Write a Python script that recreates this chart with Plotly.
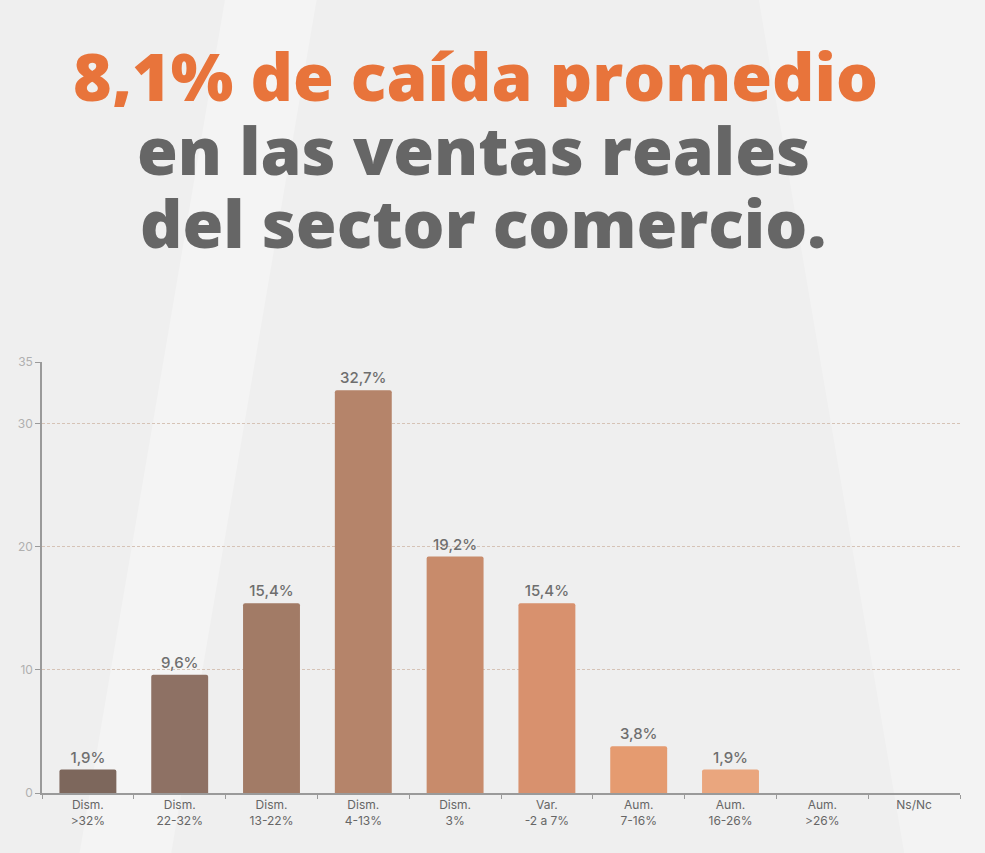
import plotly.graph_objects as go

# data
categorias = ["Dism.<br>>32%", "Dism.<br>22-32%", "Dism.<br>13-22%", "Dism.<br>4-13%",
              "Dism.<br>3%", "Var.<br>-2 a 7%", "Aum.<br>7-16%", "Aum.<br>16-26%",
              "Aum.<br>>26%", "Ns/Nc"]
valores = [1.9, 9.6, 15.4, 32.7, 19.2, 15.4, 3.8, 1.9, 0, 0]
etiquetas = ["1,9%", "9,6%", "15,4%", "32,7%", "19,2%", "15,4%", "3,8%", "1,9%", "", ""]
colores = ["#7d675c", "#8e7164", "#a27b66", "#b5846a", "#c88b6b", "#d8916e",
           "#e59b70", "#eaa67e", "#eaa67e", "#eaa67e"]
y_ticks = [0, 10, 20, 30, 35]

titulo_1 = "8,1% de caída promedio"
titulo_2 = "en las ventas reales"
titulo_3 = "del sector comercio."

fig = go.Figure()
fig.add_trace(go.Bar(
    x=categorias,
    y=valores,
    marker={"color": colores, "line": {"width": 0}, "cornerradius": 2},
    text=etiquetas,
    textposition="outside",
    textfont={"family": "Inter, Roboto, sans-serif", "size": 15, "color": "#6e6e6e", "weight": 500},
    cliponaxis=False,
    width=0.62,
    hoverinfo="skip",
))

# soft diagonal light streaks in the background
shapes = [
    {"type": "path", "xref": "paper", "yref": "paper",
     "path": "M 0.2 1.85 L 0.3 1.85 L 0.14 -0.15 L 0.04 -0.15 Z",
     "fillcolor": "rgba(255,255,255,0.3)", "line": {"width": 0}, "layer": "below"},
    {"type": "path", "xref": "paper", "yref": "paper",
     "path": "M 0.78 1.85 L 1.05 1.85 L 1.05 -0.15 L 0.94 -0.15 Z",
     "fillcolor": "rgba(255,255,255,0.25)", "line": {"width": 0}, "layer": "below"},
]

titulo_font = {"family": "'Open Sans', Lato, sans-serif", "size": 66, "weight": 800}
annotations = [
    dict(text=titulo_1, x=0.472, y=1.666, font=dict(titulo_font, color="#e8743b")),
    dict(text=titulo_2, x=0.47, y=1.494, font=dict(titulo_font, color="#666666")),
    dict(text=titulo_3, x=0.48, y=1.324, font=dict(titulo_font, color="#666666")),
]
for a in annotations:
    a.update(xref="paper", yref="paper", showarrow=False, xanchor="center",
             yanchor="middle", height=64, valign="middle")

fig.update_layout(
    width=985, height=853,
    paper_bgcolor="#efefef",
    plot_bgcolor="rgba(0,0,0,0)",
    margin={"l": 42, "r": 25, "t": 362, "b": 60},
    showlegend=False,
    shapes=shapes,
    annotations=annotations,
    font={"family": "Inter, Roboto, sans-serif", "color": "#666666"},
    xaxis={
        "showline": True, "linecolor": "#9a9a9a", "linewidth": 1.5,
        "ticks": "outside", "tickson": "boundaries", "ticklen": 4, "tickcolor": "#9a9a9a",
        "tickfont": {"size": 12, "color": "#666666"},
        "showgrid": False, "fixedrange": True,
    },
    yaxis={
        "range": [0, 35], "tickvals": y_ticks,
        "showline": True, "linecolor": "#9a9a9a", "linewidth": 1.5,
        "ticks": "outside", "ticklen": 5, "tickcolor": "#9a9a9a",
        "tickfont": {"size": 12, "color": "#b0b0b0"},
        "showgrid": True, "gridcolor": "#d6c3b6", "griddash": "3px,2px", "gridwidth": 1,
        "zeroline": False, "layer": "above traces", "fixedrange": True,
    },
)

fig.write_html(
    "out.html",
    config={"displayModeBar": False},
    post_script="document.body.style.margin='0';document.body.style.background='#efefef';",
)
